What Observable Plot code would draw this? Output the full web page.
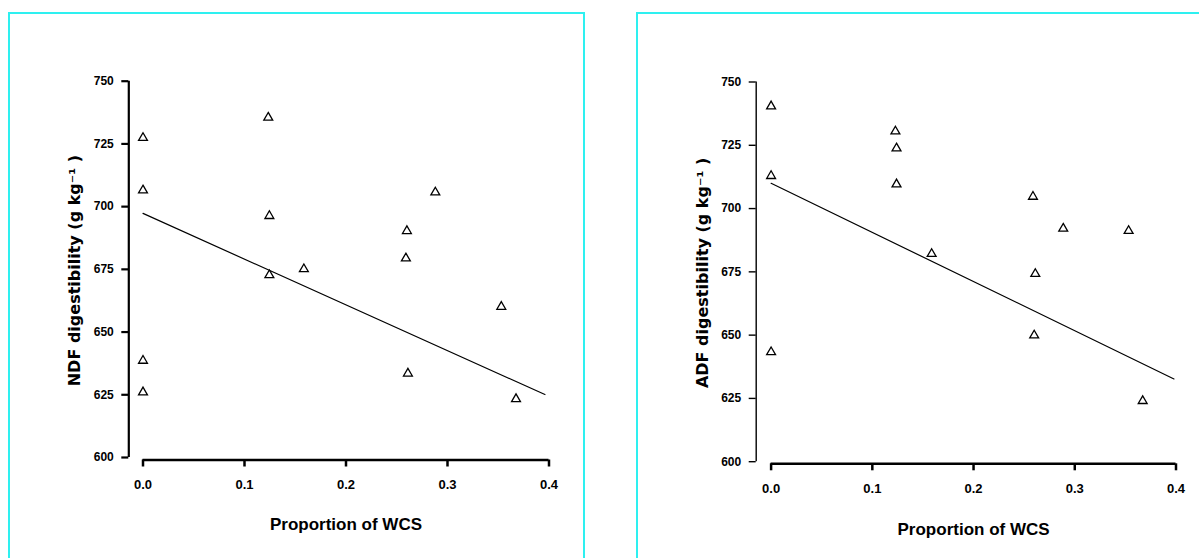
<!DOCTYPE html>
<html><head><meta charset="utf-8">
<script src="https://cdn.jsdelivr.net/npm/d3@7"></script>
<script src="https://cdn.jsdelivr.net/npm/@observablehq/plot@0.6"></script>
<style>
html,body{margin:0;padding:0;background:#fff;overflow:hidden;}
#wrap{position:relative;width:1199px;height:558px;overflow:hidden;}
.panel{position:absolute;top:12px;height:600px;border:2px solid #2ef0f0;box-sizing:border-box;}
#p1{left:8px;width:577px;}
#p2{left:636px;width:600px;}
.chart{position:absolute;top:0;}
</style></head><body>
<div id="wrap">
  <div class="panel" id="p1"></div><div class="panel" id="p2"></div>
  <div class="chart" id="c1" style="left:0px"></div>
  <div class="chart" id="c2" style="left:600px"></div>
</div>
<script>
// Tick values
const xTicks = [0, 0.1, 0.2, 0.3, 0.4];
const yTicks = [600, 625, 650, 675, 700, 725, 750];
const xLabel = "Proportion of WCS";

// Panel 1: NDF digestibility
const ndfLabel = "NDF digestibility (g kg\u207B\u00B9 )";
const ndfX = [0, 0, 0, 0, 0.1234, 0.1245, 0.1245, 0.1585, 0.260, 0.259, 0.261, 0.288, 0.353, 0.3675];
const ndfY = [727.4, 706.5, 638.6, 626.0, 735.5, 696.3, 672.7, 675.1, 690.3, 679.4, 633.5, 705.7, 660.1, 623.3];
const ndfFitX = [0, 0.396];
const ndfFitY = [697.3, 625.1];

// Panel 2: ADF digestibility
const adfLabel = "ADF digestibility (g kg\u207B\u00B9 )";
const adfX = [0, 0, 0, 0.1228, 0.1239, 0.1239, 0.1586, 0.2587, 0.261, 0.2599, 0.2886, 0.3532, 0.3671];
const adfY = [740.4, 712.9, 643.3, 730.5, 723.8, 709.6, 682.1, 704.7, 674.2, 649.9, 692.1, 691.2, 624.0];
const adfFitX = [0, 0.398];
const adfFitY = [710.0, 632.7];

const FONT = "'Liberation Sans', Arial, sans-serif";
const YFONT = "'DejaVu Sans', sans-serif";

function panel(o) {
  const pts = o.xs.map((x, i) => ({x, y: o.ys[i]}));
  const fit = o.fitX.map((x, i) => ({x, y: o.fitY[i]}));
  return Plot.plot({
    width: o.width, height: 558,
    marginLeft: o.ml, marginRight: o.mr, marginTop: o.mt, marginBottom: o.mb,
    insetLeft: o.il, insetBottom: o.ib,
    style: {background: "none", overflow: "visible", maxWidth: "none", fontFamily: FONT, color: "#000"},
    x: {domain: [0, 0.4]},
    y: {domain: [600, 750]},
    marks: [
      Plot.ruleY([600], {x1: 0, x2: 0.4, dy: o.ib, stroke: "#000", strokeWidth: 2.5}),
      Plot.ruleX([0], {y1: 600, y2: 750, dx: -o.il, stroke: "#000", strokeWidth: o.yw}),
      Plot.axisX({ticks: xTicks, tickFormat: d3.format(".1f"), tickSize: 7, tickPadding: 13,
        strokeWidth: 2.5, fontSize: 13, fontWeight: "bold", label: null}),
      Plot.text([xLabel], {frameAnchor: "bottom", dx: o.il / 2, dy: o.xdy,
        fontSize: 17, fontWeight: "bold", fill: "#000"}),
      Plot.axisY({ticks: yTicks, tickSize: 7, tickPadding: 8, strokeWidth: o.yw,
        fontSize: 12, fontWeight: "bold", label: null}),
      Plot.axisY({ticks: [], label: o.ylabel, labelAnchor: "center", labelOffset: o.ylo, labelArrow: "none",
        fontSize: 16, fontWeight: "bold", fontFamily: YFONT}),
      Plot.line(fit, {x: "x", y: "y", stroke: "#000", strokeWidth: 1.2}),
      Plot.dot(pts, {x: "x", y: "y", symbol: "triangle", r: 3.3, stroke: "#000", fill: "#fff", strokeWidth: 1.3})
    ]
  });
}

document.getElementById("c1").append(panel({
  xs: ndfX, ys: ndfY, fitX: ndfFitX, fitY: ndfFitY, ylabel: ndfLabel,
  width: 600, ml: 128.3, il: 14.2, mr: 51.5, mt: 80.7, mb: 98.5, ib: 2.5, yw: 2.2, xdy: 69.5, ylo: 60
}));
document.getElementById("c2").append(panel({
  xs: adfX, ys: adfY, fitX: adfFitX, fitY: adfFitY, ylabel: adfLabel,
  width: 599, ml: 155.7, il: 14.9, mr: 23.5, mt: 81.5, mb: 94.7, ib: 2.1, yw: 1.4, xdy: 71.5, ylo: 60
}));
</script>
</body></html>
